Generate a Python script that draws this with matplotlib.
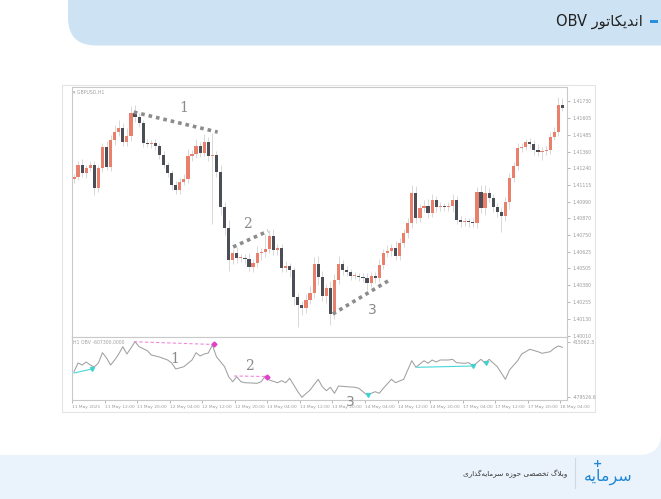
import matplotlib
matplotlib.use("Agg")
import matplotlib.pyplot as plt
from matplotlib.patches import FancyBboxPatch, Rectangle

W, H = 661, 499

# GBPUSD H1, 11 May 2021 00:00 -> 18 May 2021 04:00 (one close per candle)
first_open = 1.41160
closes = [1.41175, 1.41263, 1.41204, 1.41241, 1.41263, 1.41094, 1.41241, 1.41395, 1.41248, 1.41446,
          1.41505, 1.41534, 1.41431, 1.41475, 1.41644, 1.41615, 1.41571, 1.41424, 1.41417, 1.41424,
          1.41402, 1.41336, 1.41263, 1.41204, 1.41116, 1.41079, 1.41138, 1.41160, 1.41329, 1.41343,
          1.41402, 1.41351, 1.41431, 1.41329, 1.41336, 1.41211, 1.40954, 1.40800, 1.40566, 1.40617,
          1.40580, 1.40582, 1.40573, 1.40514, 1.40544, 1.40617, 1.40624, 1.40646, 1.40742, 1.40639,
          1.40654, 1.40507, 1.40521, 1.40492, 1.40294, 1.40235, 1.40213, 1.40272, 1.40323, 1.40536,
          1.40441, 1.40301, 1.40360, 1.40169, 1.40419, 1.40536, 1.40492, 1.40477, 1.40448, 1.40450,
          1.40441, 1.40433, 1.40397, 1.40448, 1.40433, 1.40529, 1.40617, 1.40632, 1.40654, 1.40595,
          1.40690, 1.40764, 1.40837, 1.41057, 1.40874, 1.40947, 1.40962, 1.40910, 1.41006, 1.40954,
          1.40962, 1.40954, 1.40960, 1.41006, 1.40859, 1.40844, 1.40852, 1.40846, 1.40837, 1.41064,
          1.40947, 1.41057, 1.41020, 1.40954, 1.40918, 1.40888, 1.40991, 1.41167, 1.41255, 1.41387,
          1.41395, 1.41431, 1.41417, 1.41373, 1.41358, 1.41365, 1.41373, 1.41468, 1.41505, 1.41703,
          1.41681]
# wick lengths in pips above / below the body
wick_up = [2, 3, 4, 2, 3, 3, 2, 3, 4, 4, 5, 6, 4, 6, 5, 6, 3, 2, 3, 2,
           3, 2, 3, 2, 2, 3, 3, 4, 5, 3, 5, 3, 6, 4, 16, 3, 5, 4, 6, 3,
           4, 3, 3, 4, 3, 5, 3, 11, 4, 5, 3, 3, 4, 2, 2, 3, 3, 4, 5, 5,
           6, 4, 3, 5, 4, 6, 3, 3, 2, 3, 2, 3, 4, 3, 3, 4, 3, 4, 3, 5,
           4, 3, 4, 6, 5, 3, 4, 5, 4, 3, 3, 2, 3, 4, 3, 3, 2, 2, 3, 4,
           5, 6, 4, 3, 3, 3, 4, 4, 3, 4, 3, 2, 3, 3, 4, 3, 3, 4, 4, 6, 5]
wick_dn = [3, 2, 3, 4, 2, 5, 3, 3, 2, 3, 4, 3, 3, 3, 4, 4, 3, 3, 2, 3,
           3, 3, 2, 3, 4, 3, 3, 2, 3, 4, 3, 3, 2, 4, 50, 4, 6, 5, 8, 3,
           4, 3, 4, 3, 4, 3, 5, 4, 3, 4, 4, 3, 3, 5, 6, 16, 5, 4, 3, 4,
           6, 4, 5, 8, 4, 3, 4, 3, 3, 2, 3, 3, 5, 3, 4, 3, 3, 3, 4, 3,
           3, 3, 4, 4, 4, 3, 3, 4, 3, 4, 3, 3, 3, 4, 3, 4, 3, 4, 3, 4,
           4, 5, 3, 4, 4, 12, 4, 5, 3, 3, 3, 2, 3, 4, 3, 6, 3, 3, 2, 3, 2]

price_ticks = [1.41730, 1.41605, 1.41485, 1.41360, 1.41240, 1.41115, 1.40990, 1.40870,
               1.40750, 1.40625, 1.40505, 1.40380, 1.40255, 1.40130, 1.40010]
time_labels = ["11 May 2021", "11 May 12:00", "11 May 20:00", "12 May 04:00", "12 May 12:00",
               "12 May 20:00", "13 May 04:00", "13 May 12:00", "13 May 20:00", "14 May 04:00",
               "14 May 12:00", "14 May 20:00", "17 May 04:00", "17 May 12:00", "17 May 20:00",
               "18 May 04:00"]

# OBV read at the line's turning points (candle index, value)
obv_idx = [0, 1, 2, 3, 4, 5, 6, 7, 8, 9, 10, 11, 12, 13, 14, 15, 16, 18, 19, 21,
           23, 24, 25, 27, 29, 30, 31, 32, 33, 34, 35, 37, 38, 39, 40, 41, 42, 45, 46, 47,
           48, 50, 51, 52, 53, 54, 55, 56, 58, 60, 61, 62, 63, 64, 65, 67, 69, 70, 71, 72,
           74, 75, 76, 78, 79, 81, 82, 83, 84, 86, 87, 88, 89, 90, 92, 93, 94, 96, 97, 98,
           99, 100, 101, 102, 104, 106, 107, 109, 110, 112, 114, 115, 117, 118, 119, 120]
obv_val = [-72900, 68700, 36100, 84900, 36100, 3600, 68700, 236200, 150000, 36100,
           117500, 215100, 333800, 215100, 312600, 415100, 333800, 268700, 198800, 166200,
           117500, 68700, -28900, 8500, 117500, 236200, 182500, 215100, 231300, 361400,
           171100, 8500, -154200, -235500, -154200, -235500, -251800, -261500, -235500, -142800,
           -207900, -251800, -219200, -251800, -180200, -289200, -398200, -489200, -370500, -196500,
           -316800, -381900, -326600, -424200, -305400, -316800, -326600, -342800, -398200, -451800,
           -398200, -424200, -342800, -196500, -251800, -196500, -45200, 106100, -1300, 106100,
           63800, 117500, 84900, 117500, 117500, 128800, 73500, 63800, 73500, 19900,
           73500, 128800, 63800, 128800, 8500, -196500, -45200, 106100, 215100, 291500,
           252500, 226400, 252500, 307800, 345200, 324000]

RED = "#e8806c"
DARK = "#4b4e56"
GRID = "#c9c9c9"
LBL = "#9a9a9a"


def box(l, t, r, b):
    return [l / W, 1 - b / H, (r - l) / W, (b - t) / H]


fig = plt.figure(figsize=(W / 100, H / 100), dpi=100)

# page background: header, card, footer
bg = fig.add_axes([0, 0, 1, 1])
bg.set_xlim(0, W)
bg.set_ylim(H, 0)
bg.axis("off")
bg.add_patch(Rectangle((0, 420), W, 80, fc="#eaf3fb", ec="none"))
bg.add_patch(FancyBboxPatch((-40, 30), W + 40, 425, boxstyle="round,pad=0,rounding_size=22",
                            fc="white", ec="none"))
bg.add_patch(FancyBboxPatch((68, -40), 700, 85.5, boxstyle="round,pad=0,rounding_size=28",
                            fc="#cde3f4", ec="none"))
bg.add_patch(Rectangle((650, 19.5), 8, 3, fc="#2b8fdc", ec="none"))
bg.add_patch(Rectangle((62, 85), 533, 327, fill=False, ec="#e4e4e4", lw=0.8))
bg.plot([575, 575], [458, 488], color="#cdd9e3", lw=0.8)

# title: "اندیکاتور OBV" (Arabic presentation forms, visual order)
title_fa = "\uFEAD\uFEEE\uFE97\uFE8E\uFB91\uFBFE\uFEAA\uFEE7\uFE8D"
fig.text(643 / W, 1 - 21 / H, "OBV " + title_fa, ha="right", va="center",
         fontsize=10.5, color="#222222", family="DejaVu Sans")

# footer: "وبلاگ تخصصی حوزه سرمایه‌گذاری"
w1 = "\uFB92\uFEFC\uFE91\uFEED"
w2 = "\uFBFD\uFEBC\uFEBC\uFEA8\uFE97"
w3 = "\uFEE9\uFEAF\uFEEE\uFEA3"
w4 = "\uFBFC\uFEAD\uFE8D\uFEAC\uFB94\uFEEA\uFBFE\uFE8E\uFEE3\uFEAE\uFEB3"
fig.text(567 / W, 1 - 474 / H, w4 + " " + w3 + " " + w2 + " " + w1, ha="right", va="center",
         fontsize=5.2, color="#333333", family="DejaVu Sans")
# logo
logo = "\uFEEA\uFBFE\uFE8E\uFEE3\uFEAE\uFEB3"
fig.text(608 / W, 1 - 477 / H, logo, ha="center", va="center", fontsize=11.5,
         color="#1f86d6", family="DejaVu Sans")
fig.text(597 / W, 1 - 464 / H, "+", ha="center", va="center", fontsize=8,
         color="#1f86d6", family="DejaVu Sans", fontweight="bold")

# price panel
ax = fig.add_axes(box(71.5, 87, 567, 337))
ax.set_facecolor("white")
n = len(closes)
xs = list(range(n))
opens = [first_open] + closes[:-1]
highs = [max(o, c) + u * 0.0001 for o, c, u in zip(opens, closes, wick_up)]
lows = [min(o, c) - d * 0.0001 for o, c, d in zip(opens, closes, wick_dn)]
ax.vlines(xs, lows, highs, color="#d8d8d8", lw=0.7, zorder=1)
bottoms = [min(o, c) for o, c in zip(opens, closes)]
heights = [max(abs(c - o), 0.00004) for o, c in zip(opens, closes)]
colors = [RED if c >= o else DARK for o, c in zip(opens, closes)]
ax.bar(xs, heights, bottom=bottoms, width=0.78, color=colors, zorder=2)

ax.set_xlim(-0.61, 121.13)
ax.set_ylim(1.40000, 1.41835)
ax.set_xticks([])
ax.set_yticks(price_ticks)
ax.set_yticklabels(["%.5f" % v for v in price_ticks])
ax.tick_params(axis="y", left=False, labelleft=False, right=True, labelright=True,
               length=2, width=0.5, pad=2, labelsize=3.3, colors=LBL)
for s in ax.spines.values():
    s.set_color(GRID)
    s.set_linewidth(0.8)
ax.text(0.004, 0.99, "\u25BE GBPUSD,H1", transform=ax.transAxes, fontsize=3.3,
        color="#a0a0a0", va="top", ha="left")

# divergence trend lines
dots = dict(color="#8c8c8c", lw=2.6, linestyle=(0, (1, 1.1)), dash_capstyle="butt", zorder=3)
ax.plot([14.7, 35.3], [1.41651, 1.41504], **dots)
ax.plot([39.1, 47.7], [1.40661, 1.40778], **dots)
ax.plot([63.6, 77.2], [1.40169, 1.40412], **dots)
num = dict(color="#8a8a8a", fontsize=10, ha="center", va="center", zorder=4)
ax.text(27.0, 1.41681, "1", family="DejaVu Serif", **num)
ax.text(42.5, 1.40830, "2", family="DejaVu Serif", **num)
ax.text(73.2, 1.40199, "3", **num)

# OBV panel
ax2 = fig.add_axes(box(71.5, 337, 567, 400))
ax2.set_facecolor("white")
ax2.plot(obv_idx, obv_val, color="#a0a0a0", lw=0.75, zorder=2)
ax2.plot([0, 4.35], [-94000, -28900], color="#47d6d6", lw=0.8, zorder=3)
ax2.plot([84.3, 98.1], [-1300, 19900], color="#47d6d6", lw=0.8, zorder=3)
ax2.plot([14.7, 34.4], [415100, 369600], color="#f08ad8", lw=0.8, ls=(0, (3, 2)), zorder=3)
ax2.plot([39.3, 47.3], [-142800, -151000], color="#f08ad8", lw=0.8, ls=(0, (3, 2)), zorder=3)
ax2.plot([34.4, 47.3], [369600, -151000], ls="none", marker="D", ms=2.5, color="#e040c8", zorder=4)
ax2.plot([4.35, 72.3, 98.1, 101.2], [-28900, -451800, 19900, 63800], ls="none", marker="v",
         ms=2.8, color="#3fd2d2", zorder=4)
ax2.set_xlim(-0.61, 121.13)
ax2.set_ylim(-533200, 491500)
ax2.set_yticks([415062.3, -479526.6])
ax2.set_yticklabels(["415062.3", "-479526.6"])
ax2.tick_params(axis="y", left=False, labelleft=False, right=True, labelright=True,
                length=2, width=0.5, pad=2, labelsize=3.3, colors=LBL)
ax2.set_xticks([i * 8 - 0.5 for i in range(len(time_labels))])
ax2.set_xticklabels(time_labels)
ax2.tick_params(axis="x", length=2, width=0.5, pad=1.5, labelsize=3.2, colors=LBL)
for lbl in ax2.get_xticklabels():
    lbl.set_ha("left")
for s in ax2.spines.values():
    s.set_color(GRID)
    s.set_linewidth(0.8)
ax2.text(0.004, 0.95, "H1 OBV -607300.0000", transform=ax2.transAxes, fontsize=3.3,
         color="#a0a0a0", va="top", ha="left")
num2 = dict(color="#8a8a8a", fontsize=10, ha="center", va="center", zorder=5, clip_on=False)
ax2.text(24.8, 133700, "1", family="DejaVu Serif", **num2)
ax2.text(43.0, 19900, "2", family="DejaVu Serif", **num2)
ax2.text(67.8, -560000, "3", **num2)

fig.savefig("out.png", dpi=100)
